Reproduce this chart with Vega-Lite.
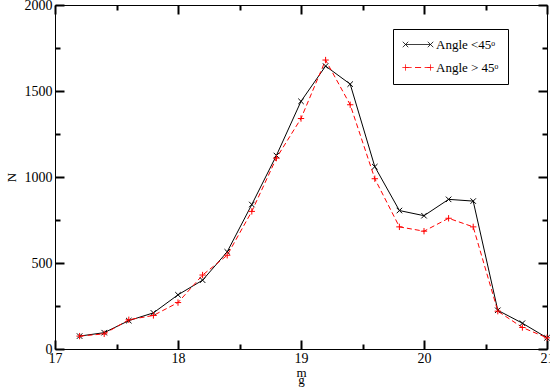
{
  "$schema": "https://vega.github.io/schema/vega-lite/v6.json",
  "width": 492,
  "height": 344,
  "autosize": {"type": "none"},
  "padding": {"left": 55, "top": 5, "right": 3, "bottom": 39},
  "background": "white",
  "config": {
    "view": {"stroke": "black", "strokeWidth": 1},
    "font": "Liberation Serif",
    "axis": {
      "grid": false,
      "domain": false,
      "labelColor": "black",
      "labelFont": "Liberation Serif",
      "labelFontSize": 14,
      "titleFont": "Liberation Serif",
      "titleFontWeight": "normal",
      "titleColor": "black",
      "titleFontSize": 13,
      "labelFlush": false,
      "labelOverlap": false
    }
  },
  "data": {
    "values": [
      {"m": 17.2, "N": 75, "series": "Angle <45ᵒ"},
      {"m": 17.4, "N": 95, "series": "Angle <45ᵒ"},
      {"m": 17.6, "N": 165, "series": "Angle <45ᵒ"},
      {"m": 17.8, "N": 210, "series": "Angle <45ᵒ"},
      {"m": 18.0, "N": 315, "series": "Angle <45ᵒ"},
      {"m": 18.2, "N": 400, "series": "Angle <45ᵒ"},
      {"m": 18.4, "N": 565, "series": "Angle <45ᵒ"},
      {"m": 18.6, "N": 840, "series": "Angle <45ᵒ"},
      {"m": 18.8, "N": 1125, "series": "Angle <45ᵒ"},
      {"m": 19.0, "N": 1440, "series": "Angle <45ᵒ"},
      {"m": 19.2, "N": 1645, "series": "Angle <45ᵒ"},
      {"m": 19.4, "N": 1540, "series": "Angle <45ᵒ"},
      {"m": 19.6, "N": 1060, "series": "Angle <45ᵒ"},
      {"m": 19.8, "N": 805, "series": "Angle <45ᵒ"},
      {"m": 20.0, "N": 775, "series": "Angle <45ᵒ"},
      {"m": 20.2, "N": 870, "series": "Angle <45ᵒ"},
      {"m": 20.4, "N": 860, "series": "Angle <45ᵒ"},
      {"m": 20.6, "N": 225, "series": "Angle <45ᵒ"},
      {"m": 20.8, "N": 150, "series": "Angle <45ᵒ"},
      {"m": 21.0, "N": 65, "series": "Angle <45ᵒ"},
      {"m": 17.2, "N": 75, "series": "Angle > 45ᵒ"},
      {"m": 17.4, "N": 88, "series": "Angle > 45ᵒ"},
      {"m": 17.6, "N": 170, "series": "Angle > 45ᵒ"},
      {"m": 17.8, "N": 195, "series": "Angle > 45ᵒ"},
      {"m": 18.0, "N": 270, "series": "Angle > 45ᵒ"},
      {"m": 18.2, "N": 430, "series": "Angle > 45ᵒ"},
      {"m": 18.4, "N": 545, "series": "Angle > 45ᵒ"},
      {"m": 18.6, "N": 800, "series": "Angle > 45ᵒ"},
      {"m": 18.8, "N": 1110, "series": "Angle > 45ᵒ"},
      {"m": 19.0, "N": 1340, "series": "Angle > 45ᵒ"},
      {"m": 19.2, "N": 1680, "series": "Angle > 45ᵒ"},
      {"m": 19.4, "N": 1420, "series": "Angle > 45ᵒ"},
      {"m": 19.6, "N": 990, "series": "Angle > 45ᵒ"},
      {"m": 19.8, "N": 710, "series": "Angle > 45ᵒ"},
      {"m": 20.0, "N": 685, "series": "Angle > 45ᵒ"},
      {"m": 20.2, "N": 760, "series": "Angle > 45ᵒ"},
      {"m": 20.4, "N": 710, "series": "Angle > 45ᵒ"},
      {"m": 20.6, "N": 220, "series": "Angle > 45ᵒ"},
      {"m": 20.8, "N": 125, "series": "Angle > 45ᵒ"},
      {"m": 21.0, "N": 65, "series": "Angle > 45ᵒ"}
    ]
  },
  "resolve": {"axis": {"x": "independent", "y": "independent"}},
  "layer": [
    {
      "transform": [{"filter": "datum.series === 'Angle <45ᵒ'"}],
      "mark": {"type": "line", "strokeWidth": 1},
      "encoding": {
        "x": {
          "field": "m", "type": "quantitative",
          "scale": {"domain": [17, 21], "nice": false, "zero": false},
          "axis": {
            "orient": "bottom",
            "title": ["m\u00a0\u00a0", "\u00a0\u00a0\u00a0\u00a0g"],
            "titleLineHeight": 7,
            "titlePadding": 1,
            "values": [17, 18, 19, 20, 21],
            "format": "d",
            "tickSize": -9,
            "tickColor": "#000000",
            "tickWidth": 2,
            "labelPadding": 11
          }
        },
        "y": {
          "field": "N", "type": "quantitative",
          "scale": {"domain": [0, 2000], "nice": false},
          "axis": {
            "orient": "left",
            "title": "N",
            "titlePadding": 6,
            "values": [0, 500, 1000, 1500, 2000],
            "format": "d",
            "tickSize": -9,
            "tickColor": "#000000",
            "tickWidth": 2,
            "labelPadding": 12
          }
        },
        "color": {
          "field": "series", "type": "nominal",
          "scale": {"domain": ["Angle <45ᵒ", "Angle > 45ᵒ"], "range": ["black", "#ff0000"]},
          "legend": {
            "title": null,
            "orient": "none",
            "legendX": 338,
            "legendY": 24,
            "strokeColor": "black",
            "fillColor": "white",
            "padding": 9,
            "symbolSize": 144,
            "symbolStrokeWidth": 1,
            "rowPadding": 9,
            "labelOffset": 21,
            "labelFont": "Liberation Serif",
            "labelFontSize": 13,
            "labelColor": "black",
            "labelExpr": "datum.label + '          '",
            "encode": {
              "symbols": {
                "update": {
                  "shape": {"signal": "datum.value === 'Angle <45ᵒ' ? 'M-0.5,0L3.67,0M-0.95,-0.45L-0.05,0.45M-0.95,0.45L-0.05,-0.45M3.22,-0.45L4.12,0.45M3.22,0.45L4.12,-0.45' : 'M-0.5,0L0.5,0M1.1,0L2.1,0M2.7,0L3.67,0M-1,0L0,0M-0.5,-0.5L-0.5,0.5M3.17,0L4.17,0M3.67,-0.5L3.67,0.5'"},
                  "fill": {"value": "transparent"},
                  "strokeDash": {"value": [1, 0]},
                  "strokeWidth": {"value": 1}
                }
              }
            }
          }
        }
      }
    },
    {
      "transform": [{"filter": "datum.series === 'Angle > 45ᵒ'"}],
      "mark": {"type": "line", "strokeWidth": 1, "strokeDash": [5, 3]},
      "encoding": {
        "x": {
          "field": "m", "type": "quantitative",
          "scale": {"domain": [17, 21], "nice": false, "zero": false},
          "axis": {
            "orient": "top",
            "title": null,
            "labels": false,
            "values": [17, 18, 19, 20, 21],
            "tickSize": -9,
            "tickColor": "#000000",
            "tickWidth": 2
          }
        },
        "y": {
          "field": "N", "type": "quantitative",
          "scale": {"domain": [0, 2000], "nice": false},
          "axis": {
            "orient": "right",
            "title": null,
            "labels": false,
            "values": [0, 500, 1000, 1500, 2000],
            "tickSize": -9,
            "tickColor": "#000000",
            "tickWidth": 2
          }
        },
        "color": {"field": "series", "type": "nominal"}
      }
    },
    {
      "transform": [{"filter": "datum.series === 'Angle <45ᵒ'"}],
      "mark": {"type": "point", "filled": false, "strokeWidth": 1, "size": 30, "opacity": 1, "color": "black", "shape": "M-1,-1L1,1M-1,1L1,-1"},
      "encoding": {
        "x": {
          "field": "m", "type": "quantitative",
          "scale": {"domain": [17, 21], "nice": false, "zero": false},
          "axis": {
            "orient": "bottom",
            "title": null,
            "labels": false,
            "values": [17.5, 18.5, 19.5, 20.5],
            "tickSize": -5,
            "tickColor": "#000000",
            "tickWidth": 2
          }
        },
        "y": {
          "field": "N", "type": "quantitative",
          "scale": {"domain": [0, 2000], "nice": false},
          "axis": {
            "orient": "left",
            "title": null,
            "labels": false,
            "values": [250, 750, 1250, 1750],
            "tickSize": -5,
            "tickColor": "#000000",
            "tickWidth": 2
          }
        }
      }
    },
    {
      "transform": [{"filter": "datum.series === 'Angle > 45ᵒ'"}],
      "mark": {"type": "point", "filled": false, "strokeWidth": 1, "size": 40, "opacity": 1, "color": "#ff0000", "shape": "M-1,0L1,0M0,-1L0,1"},
      "encoding": {
        "x": {
          "field": "m", "type": "quantitative",
          "scale": {"domain": [17, 21], "nice": false, "zero": false},
          "axis": {
            "orient": "top",
            "title": null,
            "labels": false,
            "values": [17.5, 18.5, 19.5, 20.5],
            "tickSize": -5,
            "tickColor": "#000000",
            "tickWidth": 2
          }
        },
        "y": {
          "field": "N", "type": "quantitative",
          "scale": {"domain": [0, 2000], "nice": false},
          "axis": {
            "orient": "right",
            "title": null,
            "labels": false,
            "values": [250, 750, 1250, 1750],
            "tickSize": -5,
            "tickColor": "#000000",
            "tickWidth": 2
          }
        }
      }
    }
  ]
}
